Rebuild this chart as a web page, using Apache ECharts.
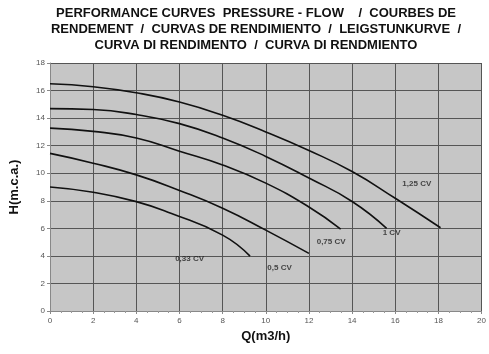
<!DOCTYPE html>
<html><head><meta charset="utf-8">
<script src="https://cdn.jsdelivr.net/npm/echarts@6/dist/echarts.min.js"></script>
<style>html,body{margin:0;padding:0;background:#fff}#c{width:489px;height:354px}</style>
</head><body><div id="c"></div>
<script>
var titleLines = ["PERFORMANCE CURVES  PRESSURE - FLOW    /  COURBES DE", "RENDEMENT  /  CURVAS DE RENDIMIENTO  /  LEIGSTUNKURVE  /", "CURVA DI RENDIMENTO  /  CURVA DI RENDMIENTO"];
var xName = "Q(m3/h)";
var yName = "H(m.c.a.)";
var seriesNames = ["0,33 CV", "0,5 CV", "0,75 CV", "1 CV", "1,25 CV"];
var q033 = [0, 2, 4, 5.6, 8, 9.27];
var h033 = [9.0, 8.62, 7.94, 7.09, 5.51, 3.98];
var q05 = [0, 2, 4, 6, 8, 10, 12];
var h05 = [11.44, 10.73, 9.88, 8.75, 7.46, 5.87, 4.18];
var q075 = [0, 2, 4, 6, 8, 10, 12, 13.47];
var h075 = [13.27, 13.04, 12.56, 11.6, 10.6, 9.28, 7.55, 5.95];
var q1 = [0, 2, 4, 6, 8, 10, 12, 14, 15.6];
var h1 = [14.69, 14.62, 14.26, 13.6, 12.56, 11.22, 9.65, 7.95, 6.0];
var q125 = [0, 2, 4, 6, 8, 10, 12, 14, 16, 18.1];
var h125 = [16.49, 16.28, 15.84, 15.17, 14.2, 13.0, 11.65, 10.12, 8.18, 6.04];
var labelQ = [6.47, 10.64, 13.03, 15.83, 17.0];
var labelH = [3.76, 3.1, 5.0, 5.67, 9.22];

function pairs(q, h) { return q.map(function (v, i) { return [v, h[i]]; }); }
var curves = [[q033, h033], [q05, h05], [q075, h075], [q1, h1], [q125, h125]];
var FONT = 'Liberation Sans, Arial, sans-serif';

var series = curves.map(function (c, i) {
  return {
    name: seriesNames[i], type: 'line', smooth: 0.5, symbol: 'none',
    data: pairs(c[0], c[1]),
    lineStyle: { color: '#111', width: 1.6 }, silent: true
  };
});
series.push({
  type: 'scatter', symbolSize: 0, silent: true,
  data: seriesNames.map(function (n, i) { return { value: [labelQ[i], labelH[i]], name: n }; }),
  label: { show: true, position: 'inside', formatter: '{b}', color: '#222', fontSize: 8, fontWeight: 'bold', fontFamily: FONT }
});

var chart = echarts.init(document.getElementById('c'), null, { renderer: 'canvas' });
chart.setOption({
  animation: false,
  backgroundColor: '#fff',
  title: {
    text: titleLines.join('\n'), left: 251, top: 0, textAlign: 'center',
    textStyle: { fontSize: 13, fontWeight: 'bold', color: '#111', lineHeight: 16, fontFamily: FONT }
  },
  grid: { left: 48, right: 5, top: 63, bottom: 43, show: true, backgroundColor: '#c6c6c6', borderWidth: 0 },
  xAxis: {
    type: 'value', min: 0, max: 20, interval: 2,
    name: xName, nameLocation: 'middle', nameGap: 15,
    nameTextStyle: { fontSize: 13, fontWeight: 'bold', color: '#111', fontFamily: FONT },
    axisLine: { show: true, lineStyle: { color: '#888', width: 1 } },
    axisTick: { show: true, length: 3, lineStyle: { color: '#888' } },
    minorTick: { show: true, splitNumber: 4, length: 2, lineStyle: { color: '#999' } },
    axisLabel: { fontSize: 8, color: '#555', margin: 6, fontFamily: FONT },
    splitLine: { show: true, lineStyle: { color: '#555', width: 1 } }
  },
  yAxis: {
    type: 'value', min: 0, max: 18, interval: 2,
    name: yName, nameLocation: 'middle', nameGap: 29, nameRotate: 90,
    nameTextStyle: { fontSize: 13, fontWeight: 'bold', color: '#111', fontFamily: FONT },
    axisLine: { show: true, lineStyle: { color: '#888', width: 1 } },
    axisTick: { show: true, length: 3, lineStyle: { color: '#888' } },
    axisLabel: { fontSize: 8, color: '#555', margin: 5, fontFamily: FONT },
    splitLine: { show: true, lineStyle: { color: '#555', width: 1 } }
  },
  series: series
});
</script></body></html>
